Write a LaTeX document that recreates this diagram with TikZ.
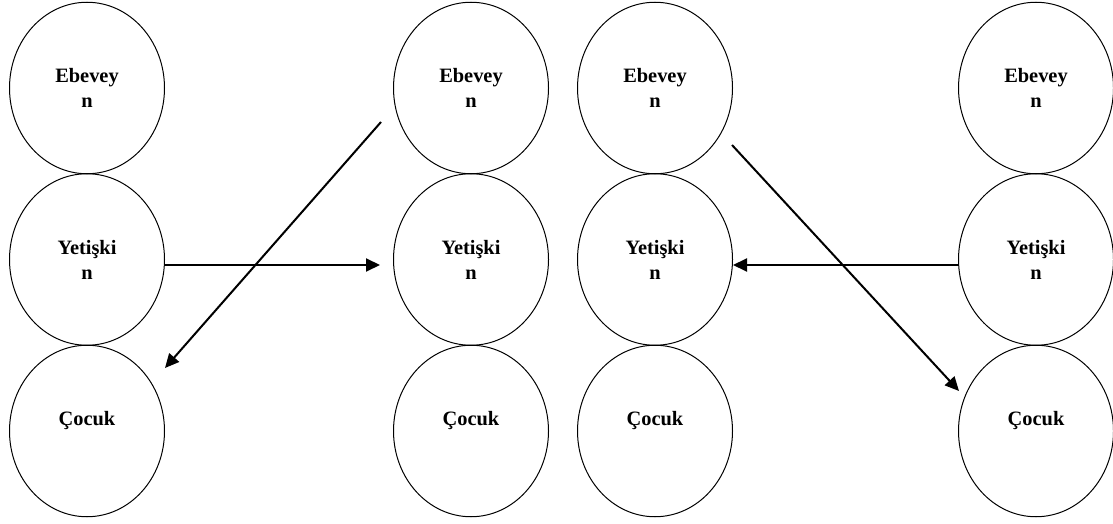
\documentclass[tikz,border=0pt]{standalone}
\usepackage{fontspec}
\setmainfont{Liberation Serif}
\usetikzlibrary{shapes.geometric,arrows.meta}
\tikzset{
  rond/.style={draw, ellipse, line width=0.5pt, minimum width=77.5pt, minimum height=85.75pt, inner sep=0pt, align=center, font=\bfseries\fontsize{10.2}{12.5}\selectfont},
  fleche/.style={line width=1pt, -{Triangle[length=7pt,width=6.5pt]}}
}
\begin{document}
\begin{tikzpicture}
                    [x=0.5pt,y=-0.5pt]
                    
                    \useasboundingbox (0,0) rectangle (1113,524);
                    
                    % Colonne 1
                    \node[rond] (E1) at (87,88) {Ebevey\\n}; \node[rond] (Y1) at (87,259.5) {Yetişki\\n}; \node[rond] (C1) at (87,431) {Çocuk\\\phantom{n}};
                    
                    % Colonne 2
                    \node[rond] (E2) at (471,88) {Ebevey\\n}; \node[rond] (Y2) at (471,259.5) {Yetişki\\n}; \node[rond] (C2) at (471,431) {Çocuk\\\phantom{n}};
                    
                    % Colonne 3
                    \node[rond] (E3) at (655,88) {Ebevey\\n}; \node[rond] (Y3) at (655,259.5) {Yetişki\\n}; \node[rond] (C3) at (655,431) {Çocuk\\\phantom{n}};
                    
                    % Colonne 4
                    \node[rond] (E4) at (1036,88) {Ebevey\\n}; \node[rond] (Y4) at (1036,259.5) {Yetişki\\n}; \node[rond] (C4) at (1036,431) {Çocuk\\\phantom{n}};
                    
                    % Extremites libres
                    \coordinate (D1) at (381,122); \coordinate (F1) at (165,368);
                    \coordinate (D3) at (732,145); \coordinate (F3) at (959,391);
                    
                    % Fleches
                    \draw [fleche] (D1) -- (F1);
                    \draw [fleche, shorten >=6.5pt] ([yshift=-2.75pt]Y1.east) -- ([yshift=-2.75pt]Y2.west);
                    \draw [fleche] (D3) -- (F3);
                    \draw [fleche] ([yshift=-2.75pt]Y4.west) -- ([yshift=-2.75pt]Y3.east);
                \end{tikzpicture}
\end{document}
